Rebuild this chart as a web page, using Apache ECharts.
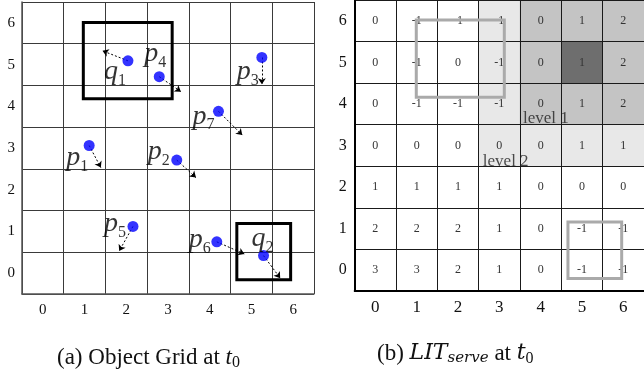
<!DOCTYPE html>
<html>
<head>
<meta charset="utf-8">
<script src="https://cdn.jsdelivr.net/npm/echarts@6/dist/echarts.min.js"></script>
<style>html,body{margin:0;padding:0;background:#fff;}#c{width:644px;height:374px;}</style>
</head>
<body>
<div id="c"></div>
<script>
// ---- data ----
const cats = ['0', '1', '2', '3', '4', '5', '6'];
const pointNames = ['q1', 'p4', 'p3', 'p7', 'p1', 'p2', 'p5', 'p6', 'q2'];
const pointX = [2.04, 2.79, 5.25, 4.21, 1.11, 3.21, 2.16, 4.17, 5.29];
const pointY = [5.09, 4.71, 5.17, 3.88, 3.06, 2.71, 1.12, 0.75, 0.42];
const moveToX = [1.43, 3.31, 5.25, 4.78, 1.39, 3.67, 1.83, 4.83, 5.69];
const moveToY = [5.33, 4.35, 4.53, 3.31, 2.53, 2.29, 0.53, 0.46, -0.12];
const queryBoxes = [[0.97, 4.18, 3.10, 6.01], [4.65, -0.16, 5.94, 1.19]];
const servedBoxes = [[0.99, 4.16, 3.12, 6.02], [4.66, -0.20, 5.96, 1.16]];
// rows from y=6 (top) down to y=0
const litValues = [
  [0, -1, -1, -1, 0, 1, 2],
  [0, -1, 0, -1, 0, 1, 2],
  [0, -1, -1, -1, 0, 1, 2],
  [0, 0, 0, 0, 0, 1, 1],
  [1, 1, 1, 1, 0, 0, 0],
  [2, 2, 2, 1, 0, -1, -1],
  [3, 3, 2, 1, 0, -1, -1]
];
const litLevels = [
  [0, 0, 0, 1, 2, 2, 2],
  [0, 0, 0, 1, 2, 3, 2],
  [0, 0, 0, 1, 2, 2, 2],
  [0, 0, 0, 1, 1, 1, 1],
  [0, 0, 0, 0, 0, 0, 0],
  [0, 0, 0, 0, 0, 0, 0],
  [0, 0, 0, 0, 0, 0, 0]
];
const levelNames = ['level 1', 'level 2'];
const levelAnchorX = [3.57, 2.60];
const levelAnchorY = [3.64, 2.62];

// ---- styles ----
const SERIF = 'Liberation Serif';
const labelOffsets = {
  q1: [-13, 11], p4: [-4, -23], p3: [-14, 14], p7: [-15, 5], p1: [-12, 12],
  p2: [-18, -8], p5: [-18, -3], p6: [-17, -2], q2: [-1, -17]
};

const heatData = [];
litValues.forEach((row, r) => {
  row.forEach((v, c) => heatData.push([c, 6 - r, litLevels[r][c], v]));
});

const pointData = pointNames.map((n, i) => ({
  name: n,
  value: [pointX[i], pointY[i]],
  label: { offset: labelOffsets[n] }
}));
const arrowData = pointNames.map((n, i) => ({
  coords: [[pointX[i], pointY[i]], [moveToX[i], moveToY[i]]]
}));
const levelData = levelNames.map((n, i) => ({ name: n, value: [levelAnchorX[i], levelAnchorY[i]] }));

function boxRenderer(color, width) {
  return function (params, api) {
    const a = api.coord([api.value(0), api.value(1)]);
    const b = api.coord([api.value(2), api.value(3)]);
    return {
      type: 'rect',
      shape: {
        x: Math.min(a[0], b[0]), y: Math.min(a[1], b[1]),
        width: Math.abs(b[0] - a[0]), height: Math.abs(b[1] - a[1])
      },
      style: { fill: 'none', stroke: color, lineWidth: width }
    };
  };
}

function catAxis(grid, lineColor, axisColor, axisWidth, fontSize, margin, z) {
  return {
    type: 'category', gridIndex: grid, data: cats, boundaryGap: true, z: z,
    axisTick: { show: false },
    axisLine: { show: true, onZero: false, lineStyle: { color: axisColor, width: axisWidth } },
    splitLine: { show: true, lineStyle: { color: lineColor, width: 1 } },
    axisLabel: { fontFamily: SERIF, fontSize: fontSize, color: '#111', margin: margin }
  };
}
function hiddenAxis(grid) {
  return { type: 'value', gridIndex: grid, min: -0.5, max: 6.5, show: false, splitLine: { show: false } };
}

const chart = echarts.init(document.getElementById('c'), null, { renderer: 'canvas' });
chart.setOption({
  animation: false,
  backgroundColor: '#fff',
  grid: [
    { left: 22, top: 2, width: 292, height: 292 },
    { left: 354.7, top: -1, width: 292, height: 292 }
  ],
  xAxis: [
    catAxis(0, '#3a3a3a', '#555', 1.5, 15, 9, 0),
    hiddenAxis(0),
    catAxis(1, '#1a1a1a', '#000', 2, 17, 8, 5),
    hiddenAxis(1)
  ],
  yAxis: [
    catAxis(0, '#3a3a3a', '#555', 1.5, 15, 7, 0),
    hiddenAxis(0),
    catAxis(1, '#1a1a1a', '#000', 2, 16, 8, 5),
    hiddenAxis(1)
  ],
  visualMap: {
    type: 'piecewise', show: false, dimension: 2, seriesIndex: 4,
    pieces: [
      { value: 0, color: '#ffffff' },
      { value: 1, color: '#e8e8e8' },
      { value: 2, color: '#c4c4c4' },
      { value: 3, color: '#6e6e6e' }
    ]
  },
  title: [
    {
      left: 52, top: 341,
      text: '(a) Object Grid at {i|t}{s|0}',
      textStyle: {
        fontFamily: SERIF, fontSize: 23, fontWeight: 'normal', color: '#111',
        rich: {
          i: { fontFamily: SERIF, fontSize: 23, fontStyle: 'italic', color: '#111' },
          s: { fontFamily: SERIF, fontSize: 16, color: '#111', verticalAlign: 'bottom', padding: [0, 0, -2, 0] }
        }
      }
    },
    {
      left: 372, top: 337,
      text: '(b) {i|LIT}{ss|serve} at {i|t}{s|0}',
      textStyle: {
        fontFamily: SERIF, fontSize: 23, fontWeight: 'normal', color: '#111',
        rich: {
          i: { fontFamily: 'DejaVu Serif', fontSize: 22, fontStyle: 'italic', color: '#111' },
          ss: { fontFamily: 'DejaVu Serif', fontSize: 15, fontStyle: 'italic', color: '#111', verticalAlign: 'bottom', padding: [0, 0, -1, 0] },
          s: { fontFamily: SERIF, fontSize: 16, color: '#111', verticalAlign: 'bottom', padding: [0, 0, -2, 0] }
        }
      }
    }
  ],
  series: [
    {
      type: 'lines', coordinateSystem: 'cartesian2d', xAxisIndex: 1, yAxisIndex: 1,
      symbol: ['none', 'arrow'], symbolSize: 6, z: 3,
      lineStyle: { color: '#000', width: 1, type: [2, 2], opacity: 1 },
      data: arrowData
    },
    {
      type: 'scatter', xAxisIndex: 1, yAxisIndex: 1, symbolSize: 11, z: 4,
      itemStyle: { color: '#0000ff' },
      label: {
        show: true, position: 'inside', align: 'center', verticalAlign: 'middle',
        formatter: p => '{m|' + p.name[0] + '}{s|' + p.name.slice(1) + '}',
        rich: {
          m: { fontFamily: SERIF, fontSize: 28, fontStyle: 'italic', color: '#000', lineHeight: 26 },
          s: { fontFamily: SERIF, fontSize: 16, color: '#000', verticalAlign: 'bottom', lineHeight: 16, padding: [0, 0, -4, 0] }
        }
      },
      data: pointData
    },
    {
      type: 'custom', xAxisIndex: 1, yAxisIndex: 1, z: 5,
      renderItem: boxRenderer('#000', 3),
      encode: { x: [0, 2], y: [1, 3] },
      data: queryBoxes
    },
    {
      type: 'custom', xAxisIndex: 3, yAxisIndex: 3, z: 6,
      renderItem: boxRenderer('#aaaaaa', 3),
      encode: { x: [0, 2], y: [1, 3] },
      data: servedBoxes
    },
    {
      type: 'heatmap', xAxisIndex: 2, yAxisIndex: 2, z: 1,
      label: {
        show: true, formatter: p => String(p.value[3]),
        fontFamily: SERIF, fontSize: 12, color: '#333'
      },
      itemStyle: { borderWidth: 0 },
      emphasis: { disabled: true },
      data: heatData
    },
    {
      type: 'scatter', xAxisIndex: 3, yAxisIndex: 3, symbolSize: 0, z: 7,
      label: {
        show: true, position: 'right', distance: 0, formatter: p => p.name,
        fontFamily: SERIF, fontSize: 17, color: '#222'
      },
      data: levelData
    }
  ]
});
</script>
</body>
</html>
